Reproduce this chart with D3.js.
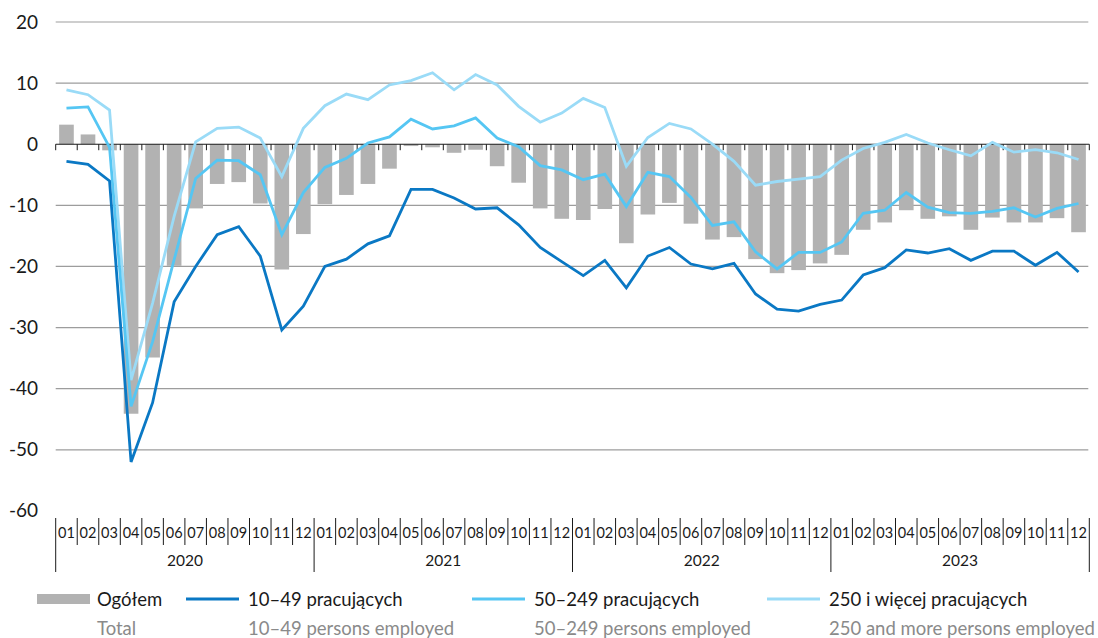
<!DOCTYPE html>
<html>
<head>
<meta charset="utf-8">
<script src="https://cdn.jsdelivr.net/npm/d3@7"></script>
<style>
  body { margin: 0; background: #fff; }
  svg text { font-family: Lato, "Open Sans", sans-serif; }
</style>
</head>
<body>
<div id="chart"></div>
<script>
// months / years on the x axis
var monthLabels = ["01","02","03","04","05","06","07","08","09","10","11","12"];
var years = ["2020","2021","2022","2023"];

// Ogółem (bars)
var ogolem = [3.2,1.6,-1.0,-44.1,-34.9,-19.9,-10.5,-6.5,-6.2,-9.7,-20.5,-14.7,
  -9.8,-8.3,-6.5,-4.0,-0.3,-0.5,-1.4,-0.9,-3.6,-6.3,-10.5,-12.2,
  -12.4,-10.6,-16.2,-11.5,-9.6,-13.0,-15.6,-15.2,-18.8,-21.1,-20.6,-19.5,
  -18.1,-14.0,-12.8,-10.8,-12.2,-11.8,-14.0,-12.0,-12.8,-12.8,-12.1,-14.4];

// 10–49 pracujących
var s10_49 = [-2.8,-3.3,-6.0,-52.0,-42.3,-25.8,-20.0,-14.8,-13.5,-18.3,-30.4,-26.5,
  -20.0,-18.8,-16.3,-15.0,-7.4,-7.4,-8.8,-10.6,-10.4,-13.2,-16.9,-19.2,
  -21.5,-19.0,-23.5,-18.3,-16.9,-19.6,-20.4,-19.5,-24.5,-27.0,-27.3,-26.2,
  -25.5,-21.4,-20.2,-17.3,-17.8,-17.1,-19.0,-17.5,-17.5,-19.8,-17.7,-20.9];

// 50–249 pracujących
var s50_249 = [5.9,6.1,-0.5,-42.9,-32.3,-18.9,-5.6,-2.6,-2.7,-5.0,-14.8,-7.9,
  -3.8,-2.3,0.2,1.2,4.1,2.5,3.0,4.3,1.0,-0.4,-3.5,-4.2,
  -5.8,-4.9,-10.2,-4.6,-5.3,-8.7,-13.3,-12.7,-17.6,-20.4,-17.7,-17.7,
  -16.0,-11.3,-10.8,-7.9,-10.3,-11.2,-11.3,-11.0,-10.4,-11.9,-10.5,-9.7];

// 250 i więcej pracujących
var s250 = [8.9,8.1,5.6,-38.6,-26.0,-11.8,0.4,2.6,2.8,1.0,-5.3,2.6,
  6.3,8.2,7.3,9.7,10.4,11.7,8.9,11.4,9.7,6.2,3.6,5.1,
  7.5,6.0,-3.6,1.1,3.4,2.5,0.0,-2.8,-6.7,-6.1,-5.7,-5.3,
  -2.6,-0.7,0.3,1.6,0.2,-0.9,-1.9,0.3,-1.3,-0.9,-1.4,-2.5];

var yTicks = [20,10,0,-10,-20,-30,-40,-50,-60];

var svgWidth = 1098;
var svgHeight = 638;

var svg = d3.select("#chart").append("svg")
  .attr("width", svgWidth)
  .attr("height", svgHeight);

// every month as a key
var keys = [];
years.forEach(function(y){
  monthLabels.forEach(function(m){ keys.push(y + "-" + m); });
});

var xLeft = 55.7, xRight = 1089.3;

var xScale = d3.scaleBand()
  .domain(keys)
  .range([xLeft, xRight])
  .paddingInner(0.32)
  .paddingOuter(0.16);

var xEdge = function(i){ return xLeft + i * (xRight - xLeft) / keys.length; };
var xMid = function(d, i){ return xScale(keys[i]) + xScale.bandwidth() / 2; };

var yScale = d3.scaleLinear()
  .domain([-60, 20])
  .range([510.9, 22]);

// gridlines
svg.append("g")
  .selectAll("line")
  .data(yTicks.filter(function(t){ return t !== 0 && t !== -60; }))
  .enter().append("line")
  .attr("x1", xLeft)
  .attr("x2", xRight - 1)
  .attr("y1", function(d){ return yScale(d); })
  .attr("y2", function(d){ return yScale(d); })
  .attr("stroke", "#9d9d9d")
  .attr("stroke-width", 1.2);

// y axis labels (plain hyphen for negatives, like the original)
var leftAxis = d3.axisLeft(yScale)
  .tickValues(yTicks)
  .tickFormat(function(d){ return String(d); })
  .tickSize(0).tickPadding(0);
var yAxisG = svg.append("g")
  .attr("transform", "translate(38,0)")
  .call(leftAxis);
yAxisG.select(".domain").remove();
yAxisG.selectAll("text")
  .attr("font-size", 19)
  .attr("fill", "#1a1a1a")
  .style("font-family", "Lato, 'Open Sans', sans-serif");

// bars
svg.append("g")
  .selectAll("rect")
  .data(ogolem)
  .enter().append("rect")
  .attr("x", function(d, i){ return xScale(keys[i]); })
  .attr("width", xScale.bandwidth())
  .attr("y", function(d){ return yScale(Math.max(0, d)); })
  .attr("height", function(d){ return Math.abs(yScale(d) - yScale(0)); })
  .attr("fill", "#b2b2b2");

// zero line with ticks
svg.append("line")
  .attr("x1", xLeft).attr("x2", xRight)
  .attr("y1", yScale(0)).attr("y2", yScale(0))
  .attr("stroke", "#1a1a1a").attr("stroke-width", 1.2);

svg.append("g")
  .selectAll("line")
  .data(d3.range(keys.length + 1))
  .enter().append("line")
  .attr("x1", xEdge).attr("x2", xEdge)
  .attr("y1", yScale(0)).attr("y2", yScale(0) + 6)
  .attr("stroke", "#1a1a1a").attr("stroke-width", 1);

// lines
var series = [
  { values: s250, color: "#9adbf7" },
  { values: s50_249, color: "#55c6f3" },
  { values: s10_49, color: "#0a78c4" }
];

var lineGen = d3.line()
  .x(xMid)
  .y(function(d){ return yScale(d); });

series.forEach(function(s){
  svg.append("path")
    .datum(s.values)
    .attr("d", lineGen)
    .attr("fill", "none")
    .attr("stroke", s.color)
    .attr("stroke-width", 2.8)
    .attr("stroke-linejoin", "miter");
});

// x axis: month boxes and years
var axisG = svg.append("g");
axisG.selectAll("line.month")
  .data(d3.range(keys.length + 1))
  .enter().append("line")
  .attr("class", "month")
  .attr("x1", xEdge).attr("x2", xEdge)
  .attr("y1", 518)
  .attr("y2", function(i){ return i % 12 === 0 ? 572 : 545; })
  .attr("stroke", "#1a1a1a").attr("stroke-width", 1);

axisG.selectAll("text.month")
  .data(keys)
  .enter().append("text")
  .attr("class", "month")
  .attr("x", function(d, i){ return (xEdge(i) + xEdge(i + 1)) / 2; })
  .attr("y", 538)
  .attr("text-anchor", "middle")
  .attr("font-size", 14.5)
  .attr("fill", "#1a1a1a")
  .text(function(d){ return d.slice(5); });

axisG.selectAll("text.year")
  .data(years)
  .enter().append("text")
  .attr("class", "year")
  .attr("x", function(d, i){ return (xEdge(i * 12) + xEdge(i * 12 + 12)) / 2; })
  .attr("y", 566)
  .attr("text-anchor", "middle")
  .attr("font-size", 15.5)
  .attr("fill", "#1a1a1a")
  .text(function(d){ return d; });

// legend
var legendItems = [
  { pl: "Ogółem", en: "Total", type: "bar", color: "#b2b2b2", x: 37, tx: 97 },
  { pl: "10–49 pracujących", en: "10–49 persons employed", type: "line", color: "#0a78c4", x: 186, tx: 248 },
  { pl: "50–249 pracujących", en: "50–249 persons employed", type: "line", color: "#55c6f3", x: 472, tx: 534 },
  { pl: "250 i więcej pracujących", en: "250 and more persons employed", type: "line", color: "#9adbf7", x: 767, tx: 829 }
];

var legend = svg.append("g");
legendItems.forEach(function(it){
  if (it.type === "bar") {
    legend.append("rect")
      .attr("x", it.x).attr("y", 594)
      .attr("width", 53).attr("height", 10)
      .attr("fill", it.color);
  } else {
    legend.append("line")
      .attr("x1", it.x).attr("x2", it.x + 53)
      .attr("y1", 599).attr("y2", 599)
      .attr("stroke", it.color).attr("stroke-width", 2.8);
  }
  legend.append("text")
    .attr("x", it.tx).attr("y", 606)
    .attr("font-size", 18.5)
    .attr("fill", "#1a1a1a")
    .text(it.pl);
  legend.append("text")
    .attr("x", it.tx).attr("y", 635)
    .attr("font-size", 18.5)
    .attr("fill", "#8a8a8a")
    .text(it.en);
});
</script>
</body>
</html>
